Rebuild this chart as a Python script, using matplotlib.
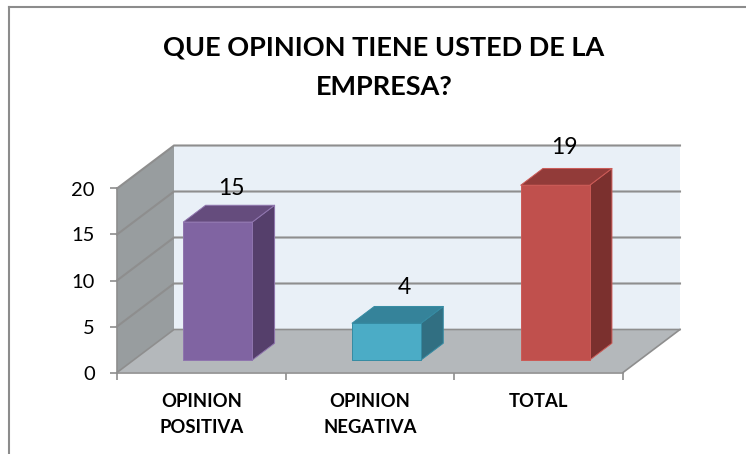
import matplotlib
matplotlib.use("Agg")
import matplotlib.pyplot as plt
from matplotlib.lines import Line2D
from matplotlib.patches import Polygon

plt.rcParams["font.family"] = ["Lato", "DejaVu Sans"]

# Data
categories = ["OPINION\nPOSITIVA", "OPINION\nNEGATIVA", "TOTAL"]
values = [15, 4, 19]
yticks = [0, 5, 10, 15, 20]
title = "QUE OPINION TIENE USTED DE LA\nEMPRESA?"

# Bar colours: front, top, side, edge
front_colors = ["#8064a2", "#4bacc6", "#c0504d"]
top_colors = ["#654c7d", "#35839a", "#923b39"]
side_colors = ["#553f6b", "#316f82", "#7b302e"]
edge_colors = ["#8f75ae", "#358ba3", "#cb5a56"]

W, H = 746, 454
fig = plt.figure(figsize=(W / 100, H / 100), dpi=100)
fig.patch.set_facecolor("white")

# Front plane of the 3D box
ax = fig.add_axes([117 / W, (H - 372.5) / H, 506 / W, 184 / H])
ax.set_xlim(0, 3)
ax.set_ylim(0, 20)
ax.patch.set_visible(False)

# Depth of the box in data units
DX = 57 / (506 / 3)
DY = 43 / (184 / 20)


def pt(x, y, d):
    return (x + d * DX, y + d * DY)


def face(points, color, edge="none", lw=0, z=1):
    ax.add_patch(Polygon(points, closed=True, facecolor=color, edgecolor=edge,
                         linewidth=lw, clip_on=False, zorder=z, joinstyle="round"))


# Walls and floor
face([pt(0, 0, 1), pt(3, 0, 1), pt(3, 20, 1), pt(0, 20, 1)], "#e9f0f7")
face([pt(0, 0, 0), pt(0, 0, 1), pt(0, 20, 1), pt(0, 20, 0)], "#989d9f")
face([pt(0, 0, 0), pt(3, 0, 0), pt(3, 0, 1), pt(0, 0, 1)], "#b4b8bb")

# Gridlines
grid_color = "#8e8e8e"
for t in yticks:
    p0, p1, p2 = pt(0, t, 0), pt(0, t, 1), pt(3, t, 1)
    lw = 1.5 if t > 0 else 1.2
    ax.plot([p0[0], p1[0], p2[0]], [p0[1], p1[1], p2[1]], color=grid_color, lw=lw,
            clip_on=False, zorder=2, solid_joinstyle="miter")
p0, p1 = pt(3, 0, 0), pt(3, 0, 1)
ax.plot([p0[0], p1[0]], [p0[1], p1[1]], color=grid_color, lw=1.2, clip_on=False, zorder=2)

# Bars
bar_w = 69 / (506 / 3)
d0, d1 = 0.29, 0.68
label_nudge = [(13, 34), (18, 36), (9, 38)]
for i, v in enumerate(values):
    l = i + 0.5 - bar_w / 2
    r = i + 0.5 + bar_w / 2
    edge = edge_colors[i]
    face([pt(r, 0, d0), pt(r, 0, d1), pt(r, v, d1), pt(r, v, d0)], side_colors[i], edge, 0.7, 3)
    face([pt(l, v, d0), pt(r, v, d0), pt(r, v, d1), pt(l, v, d1)], top_colors[i], edge, 0.7, 3)
    face([pt(l, 0, d0), pt(r, 0, d0), pt(r, v, d0), pt(l, v, d0)], front_colors[i], edge, 0.7, 4)
    ax.annotate(str(v), xy=pt(i + 0.5, v, d0), xytext=label_nudge[i], textcoords="offset pixels",
                ha="center", va="center", fontsize=16.5, color="black", zorder=6,
                annotation_clip=False)

# Axes, ticks and labels
for s in ["top", "right"]:
    ax.spines[s].set_visible(False)
for s in ["left", "bottom"]:
    ax.spines[s].set_color(grid_color)
    ax.spines[s].set_linewidth(1.2)
    ax.spines[s].set_zorder(2)
ax.set_yticks(yticks)
ax.set_yticklabels([str(t) for t in yticks], fontsize=14.5)
ax.tick_params(axis="y", length=5, width=1.2, color=grid_color, pad=11)
ax.set_xticks([0, 1, 2, 3])
ax.set_xticklabels([])
ax.tick_params(axis="x", which="major", length=5, width=1.2, color=grid_color)
ax.set_xticks([0.5, 1.5, 2.5], minor=True)
ax.set_xticklabels(categories, minor=True, fontsize=13.3, fontweight="bold", linespacing=1.67)
ax.tick_params(axis="x", which="minor", length=0, pad=14.5)

fig.text(384 / W, 1 - 67.5 / H, title, ha="center", va="center", fontsize=19.5,
         fontweight="bold", color="black", linespacing=1.78)

# Chart frame
frame = "#8c8c8c"
fig.add_artist(Line2D([9 / W, 9 / W], [0, 1 - 7 / H], color=frame, lw=1.5))
fig.add_artist(Line2D([9 / W, 1], [1 - 7 / H, 1 - 7 / H], color=frame, lw=1.5))

fig.savefig("out.png", dpi=100)
